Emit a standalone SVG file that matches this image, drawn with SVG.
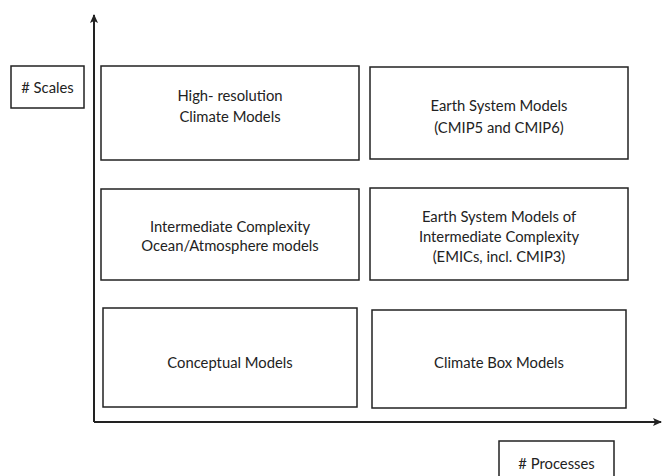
<svg xmlns="http://www.w3.org/2000/svg" width="663" height="476" viewBox="0 0 663 476">
<style>
.box{fill:#fff;stroke:#222;stroke-width:1.5}
.ax{fill:none;stroke:#222;stroke-width:2}
text{font-family:Lato,"Open Sans",sans-serif;font-size:14.8px;fill:#222;text-anchor:middle;dominant-baseline:central}
</style>
<defs>
<marker id="ah" markerWidth="10" markerHeight="10" refX="8" refY="5" orient="auto" markerUnits="userSpaceOnUse">
<path d="M0,1 L9,5 L0,9 L2,5 Z" fill="#222"/>
</marker>
</defs>
<g id="axes">
<path class="ax" d="M94,422 V15" marker-end="url(#ah)"/>
<path class="ax" d="M94,422 H661" marker-end="url(#ah)"/>
</g>
<g id="scales"><rect class="box" x="11" y="66" width="73" height="42"/><text x="47.5" y="87"># Scales</text></g>
<g id="processes"><rect class="box" x="499" y="441" width="115" height="40"/><text x="556.5" y="463"># Processes</text></g>
<g id="hires"><rect class="box" x="101" y="66" width="258" height="94"/><text x="230" y="95">High- resolution</text><text x="230" y="116">Climate Models</text></g>
<g id="esm"><rect class="box" x="370" y="67" width="258" height="92"/><text x="499" y="105">Earth System Models</text><text x="499" y="127">(CMIP5 and CMIP6)</text></g>
<g id="imc"><rect class="box" x="101" y="189" width="258" height="91"/><text x="230" y="226">Intermediate Complexity</text><text x="230" y="245">Ocean/Atmosphere models</text></g>
<g id="emic"><rect class="box" x="370" y="188" width="258" height="92"/><text x="499" y="216">Earth System Models of</text><text x="499" y="236">Intermediate Complexity</text><text x="499" y="256">(EMICs, incl. CMIP3)</text></g>
<g id="conceptual"><rect class="box" x="103" y="308" width="254" height="99"/><text x="230" y="362">Conceptual Models</text></g>
<g id="box"><rect class="box" x="372" y="310" width="254" height="98"/><text x="499" y="362">Climate Box Models</text></g>
</svg>
